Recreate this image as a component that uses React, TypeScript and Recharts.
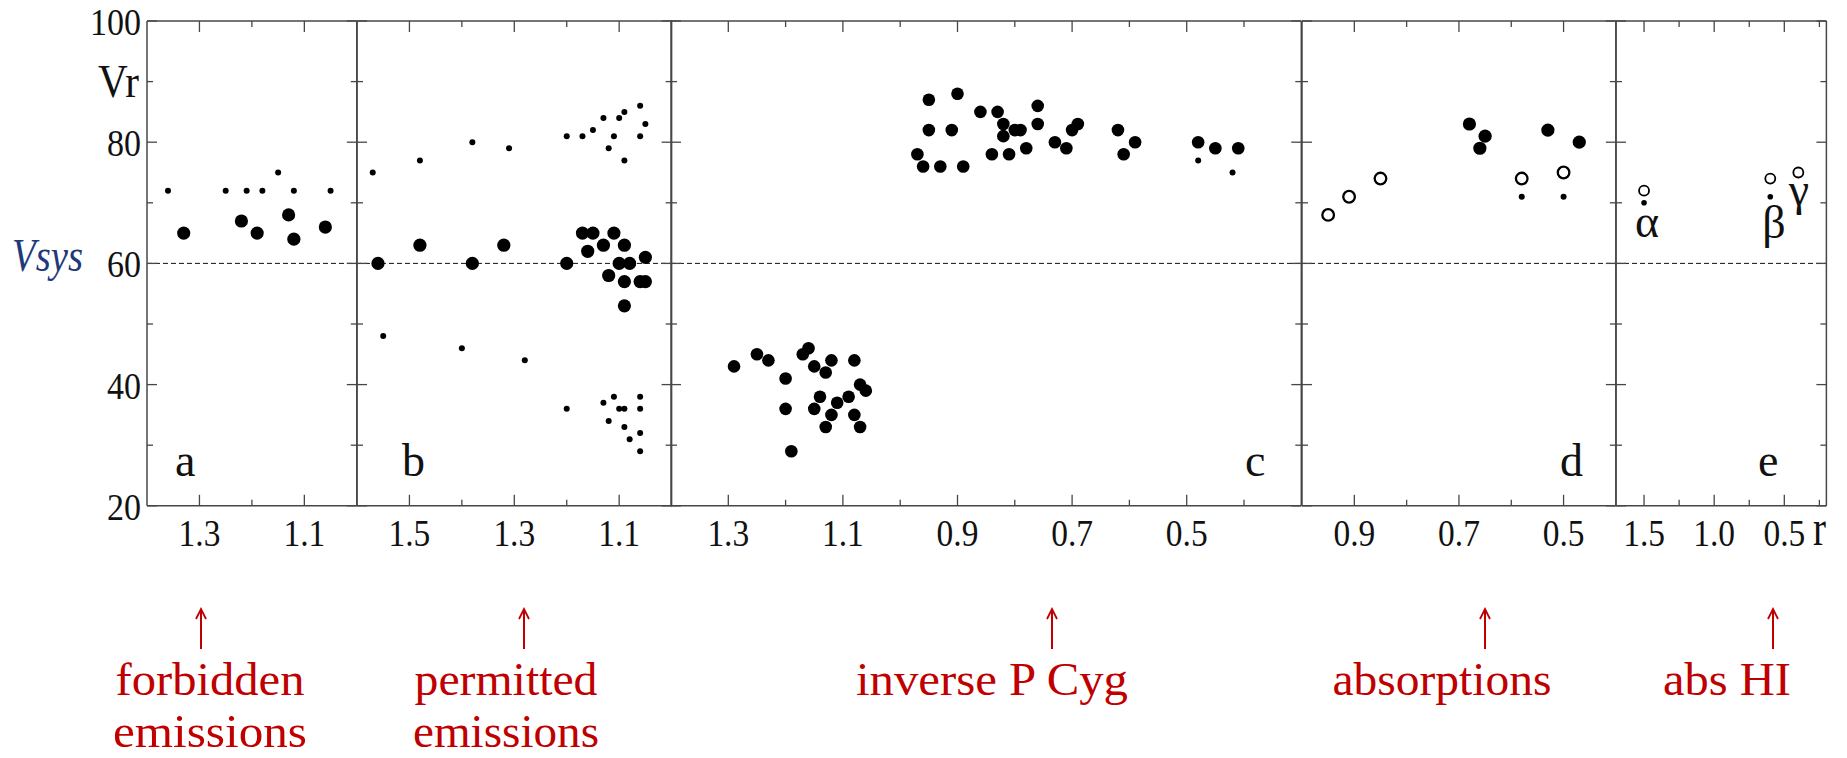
import React from 'react';
import { ScatterChart, Scatter, XAxis, YAxis, ReferenceLine } from 'recharts';

// r (x) and Vr (y) pairs, panel by panel
const aSmall = [[1.36, 72], [1.25, 72], [1.21, 72], [1.18, 72], [1.15, 75], [1.12, 72], [1.05, 72]];
const aBig = [[1.33, 65], [1.22, 67], [1.19, 65], [1.13, 68], [1.12, 64], [1.06, 66]];

const bSmall = [
  [1.57, 75], [1.48, 77], [1.38, 80], [1.31, 79], [1.2, 81], [1.17, 81], [1.15, 82], [1.13, 84],
  [1.12, 79], [1.11, 81], [1.1, 84], [1.09, 85], [1.09, 77], [1.06, 86], [1.06, 81], [1.05, 83],
  [1.55, 48], [1.4, 46], [1.28, 44], [1.2, 36], [1.13, 37], [1.11, 38], [1.12, 34], [1.1, 36],
  [1.09, 36], [1.09, 33], [1.08, 31], [1.06, 38], [1.06, 36], [1.06, 32], [1.06, 29],
];
const bBig = [
  [1.56, 60], [1.48, 63], [1.38, 60], [1.32, 63], [1.2, 60], [1.17, 65], [1.15, 65], [1.16, 62],
  [1.13, 63], [1.11, 65], [1.09, 63], [1.1, 60], [1.08, 60], [1.12, 58], [1.09, 57], [1.05, 61],
  [1.06, 57], [1.05, 57], [1.09, 53],
];

const cBig = [
  [1.29, 43], [1.25, 45], [1.23, 44], [1.2, 41], [1.2, 36], [1.19, 29], [1.17, 45], [1.16, 46],
  [1.15, 43], [1.13, 42], [1.12, 44], [1.14, 38], [1.15, 36], [1.11, 37], [1.12, 35], [1.13, 33],
  [1.09, 38], [1.08, 44], [1.07, 40], [1.06, 39], [1.08, 35], [1.07, 33],
  [0.95, 87], [0.9, 88], [0.95, 82], [0.91, 82], [0.86, 85], [0.97, 78], [0.96, 76], [0.93, 76],
  [0.89, 76], [0.84, 78], [0.83, 85], [0.82, 83], [0.82, 81], [0.81, 78], [0.8, 82], [0.79, 82],
  [0.78, 79], [0.76, 86], [0.76, 83], [0.73, 80], [0.71, 79], [0.7, 82], [0.69, 83], [0.62, 82],
  [0.59, 80], [0.61, 78], [0.48, 80], [0.45, 79], [0.41, 79],
];
const cSmall = [[0.48, 77], [0.42, 75]];

const dOpen = [[0.95, 68], [0.91, 71], [0.85, 74], [0.58, 74], [0.5, 75]];
const dBig = [[0.68, 83], [0.65, 81], [0.66, 79], [0.53, 82], [0.47, 80]];
const dSmall = [[0.58, 71], [0.5, 71]];

const eOpen = [[1.5, 72], [0.6, 74], [0.4, 75]];
const eSmall = [[1.5, 70], [0.6, 71]];

const yTicks = [20, 30, 40, 50, 60, 70, 80, 90, 100];
const yLabelled = [20, 40, 60, 80, 100];
const vsys = 60;

const FRAME = '#474747';
const RED = '#c00000';
const SERIF = '"Liberation Serif", "Times New Roman", serif';
const TOP = 20.7;
const BOTTOM = 505.5;
const PAD = 70;

type Pt = number[];
interface Series { name: string; pts: Pt[]; r: number; open?: boolean; sw?: number }
interface Panel {
  key: string;
  left: number;
  right: number;
  domain: [number, number];
  ticks: number[];
  majors: number[];
  series: Series[];
  yLabels?: boolean;
}

const panels: Panel[] = [
  {
    key: 'a', left: 147, right: 356.8, domain: [1.0, 1.4], ticks: [1.3, 1.2, 1.1], majors: [1.3, 1.1], yLabels: true,
    series: [{ name: 'small', pts: aSmall, r: 3 }, { name: 'big', pts: aBig, r: 6.6 }],
  },
  {
    key: 'b', left: 356.8, right: 671.4, domain: [1.0, 1.6], ticks: [1.5, 1.4, 1.3, 1.2, 1.1], majors: [1.5, 1.3, 1.1],
    series: [{ name: 'small', pts: bSmall, r: 3 }, { name: 'big', pts: bBig, r: 6.6 }],
  },
  {
    key: 'c', left: 671.4, right: 1301.7, domain: [0.3, 1.4],
    ticks: [1.3, 1.2, 1.1, 1.0, 0.9, 0.8, 0.7, 0.6, 0.5, 0.4], majors: [1.3, 1.1, 0.9, 0.7, 0.5],
    series: [{ name: 'big', pts: cBig, r: 6.3 }, { name: 'small', pts: cSmall, r: 3 }],
  },
  {
    key: 'd', left: 1301.7, right: 1615.6, domain: [0.4, 1.0], ticks: [0.9, 0.8, 0.7, 0.6, 0.5], majors: [0.9, 0.7, 0.5],
    series: [
      { name: 'open', pts: dOpen, r: 5.8, open: true, sw: 2.3 },
      { name: 'big', pts: dBig, r: 6.6 },
      { name: 'small', pts: dSmall, r: 3 },
    ],
  },
  {
    key: 'e', left: 1615.6, right: 1826, domain: [0.2, 1.7], ticks: [1.5, 1.25, 1.0, 0.75, 0.5, 0.25], majors: [1.5, 1.0, 0.5],
    series: [
      { name: 'open', pts: eOpen, r: 5, open: true, sw: 1.8 },
      { name: 'small', pts: eSmall, r: 2.8 },
    ],
  },
];

const isIn = (v: number, list: number[]) => list.some((m) => Math.abs(m - v) < 1e-6);
const toPts = (pts: Pt[]) => pts.map(([r, v]) => ({ r, v }));

const dotShape = (s: Series) => (props: any) => (
  <circle
    cx={props.cx}
    cy={props.cy}
    r={s.r}
    fill={s.open ? '#fff' : '#000'}
    stroke={s.open ? '#000' : 'none'}
    strokeWidth={s.sw || 0}
  />
);

function PanelChart({ p }: { p: Panel }) {
  const w = p.right - p.left;
  const h = BOTTOM - TOP;
  const axisLine = { stroke: FRAME, strokeWidth: 1.5 };

  const bottomTick = (t: any) => {
    const major = isIn(t.payload.value, p.majors);
    return (
      <g>
        <line x1={t.x} x2={t.x} y1={t.y} y2={t.y - (major ? 11 : 6)} stroke={FRAME} strokeWidth={1.3} />
        {major && (
          <text
            transform={`translate(${t.x} ${t.y + 40}) scale(0.88 1)`}
            textAnchor="middle"
            fontSize={38}
            fontFamily={SERIF}
            fill="#111"
          >
            {Number(t.payload.value).toFixed(1)}
          </text>
        )}
      </g>
    );
  };
  const topTick = (t: any) => {
    const major = isIn(t.payload.value, p.majors);
    return <line x1={t.x} x2={t.x} y1={t.y} y2={t.y + (major ? 11 : 6)} stroke={FRAME} strokeWidth={1.3} />;
  };
  const leftTick = (t: any) => {
    const major = isIn(t.payload.value, yLabelled);
    return (
      <g>
        <line x1={t.x} x2={t.x + (major ? 10 : 6)} y1={t.y} y2={t.y} stroke={FRAME} strokeWidth={1.3} />
        {p.yLabels && major && (
          <text
            transform={`translate(${t.x - 6} ${t.y + 14}) scale(0.92 1)`}
            textAnchor="end"
            fontSize={37}
            fontFamily={SERIF}
            fill="#111"
          >
            {t.payload.value}
          </text>
        )}
      </g>
    );
  };
  const rightTick = (t: any) => {
    const major = isIn(t.payload.value, yLabelled);
    return <line x1={t.x} x2={t.x - (major ? 10 : 6)} y1={t.y} y2={t.y} stroke={FRAME} strokeWidth={1.3} />;
  };

  return (
    <div style={{ position: 'absolute', left: p.left - PAD, top: TOP - PAD }}>
      <ScatterChart width={w + 2 * PAD} height={h + 2 * PAD} margin={{ top: 0, right: 0, bottom: 0, left: 0 }}>
        <XAxis
          xAxisId="b" type="number" dataKey="r" domain={p.domain} reversed allowDataOverflow
          ticks={p.ticks} interval={0} height={PAD} tickSize={0} tickMargin={0} tickLine={false}
          axisLine={axisLine} tick={bottomTick}
        />
        <XAxis
          xAxisId="t" orientation="top" type="number" dataKey="r" domain={p.domain} reversed allowDataOverflow
          ticks={p.ticks} interval={0} height={PAD} tickSize={0} tickMargin={0} tickLine={false}
          axisLine={axisLine} tick={topTick}
        />
        <YAxis
          yAxisId="l" type="number" dataKey="v" domain={[20, 100]} allowDataOverflow
          ticks={yTicks} interval={0} width={PAD} tickSize={0} tickMargin={0} tickLine={false}
          axisLine={axisLine} tick={leftTick}
        />
        <YAxis
          yAxisId="r" orientation="right" type="number" dataKey="v" domain={[20, 100]} allowDataOverflow
          ticks={yTicks} interval={0} width={PAD} tickSize={0} tickMargin={0} tickLine={false}
          axisLine={axisLine} tick={rightTick}
        />
        <ReferenceLine xAxisId="b" yAxisId="l" y={vsys} stroke="#111" strokeWidth={1} strokeDasharray="5 3" />
        {p.series.map((s) => (
          <Scatter
            key={s.name}
            xAxisId="b"
            yAxisId="l"
            data={toPts(s.pts)}
            shape={dotShape(s)}
            isAnimationActive={false}
          />
        ))}
      </ScatterChart>
    </div>
  );
}

const notes = [
  { lines: ['forbidden', 'emissions'], widths: [189, 194], cx: 210, arrow: 201 },
  { lines: ['permitted', 'emissions'], widths: [183, 186], cx: 506, arrow: 524 },
  { lines: ['inverse P Cyg'], widths: [272], cx: 992, arrow: 1052 },
  { lines: ['absorptions'], widths: [219], cx: 1442, arrow: 1485 },
  { lines: ['abs HI'], widths: [128], cx: 1727, arrow: 1773 },
];

export default function App() {
  return (
    <div style={{ position: 'absolute', left: 0, top: 0, width: 1847, height: 758, overflow: 'hidden', background: '#fff' }}>
      {panels.map((p) => (
        <PanelChart key={p.key} p={p} />
      ))}
      <svg width={1847} height={758} style={{ position: 'absolute', left: 0, top: 0, pointerEvents: 'none' }} fontFamily={SERIF}>
        <text x={139} y={97} fontSize={46} textAnchor="end" textLength={41} lengthAdjust="spacingAndGlyphs" fill="#111">Vr</text>
        <text x={12} y={271} fontSize={46} fontStyle="italic" fill="#1f3a7a" textLength={71} lengthAdjust="spacingAndGlyphs">Vsys</text>

        {[['a', 175], ['b', 402], ['c', 1245], ['d', 1560], ['e', 1758]].map(([l, x]) => (
          <text key={l as string} x={x as number} y={476} fontSize={46} fill="#111">{l}</text>
        ))}
        <text x={1647} y={237} fontSize={46} textAnchor="middle" fill="#111">α</text>
        <text x={1774} y={238} fontSize={46} textAnchor="middle" fill="#111">β</text>
        <text x={1799} y={205} fontSize={46} textAnchor="middle" fill="#111">γ</text>
        <text x={1813} y={545} fontSize={50} textLength={13} lengthAdjust="spacingAndGlyphs" fill="#111">r</text>

        {notes.map((n) => (
          <g key={n.lines[0] + n.cx}>
            <line x1={n.arrow} x2={n.arrow} y1={609} y2={649} stroke={RED} strokeWidth={2} />
            <path d={`M${n.arrow - 5} ${619} L${n.arrow} ${609} L${n.arrow + 5} ${619}`} fill="none" stroke={RED} strokeWidth={1.8} />
            {n.lines.map((t, i) => (
              <text
                key={t + i}
                x={n.cx}
                y={695 + i * 52}
                fontSize={47}
                textAnchor="middle"
                fill={RED}
                textLength={n.widths[i]}
                lengthAdjust="spacingAndGlyphs"
              >
                {t}
              </text>
            ))}
          </g>
        ))}
      </svg>
    </div>
  );
}
